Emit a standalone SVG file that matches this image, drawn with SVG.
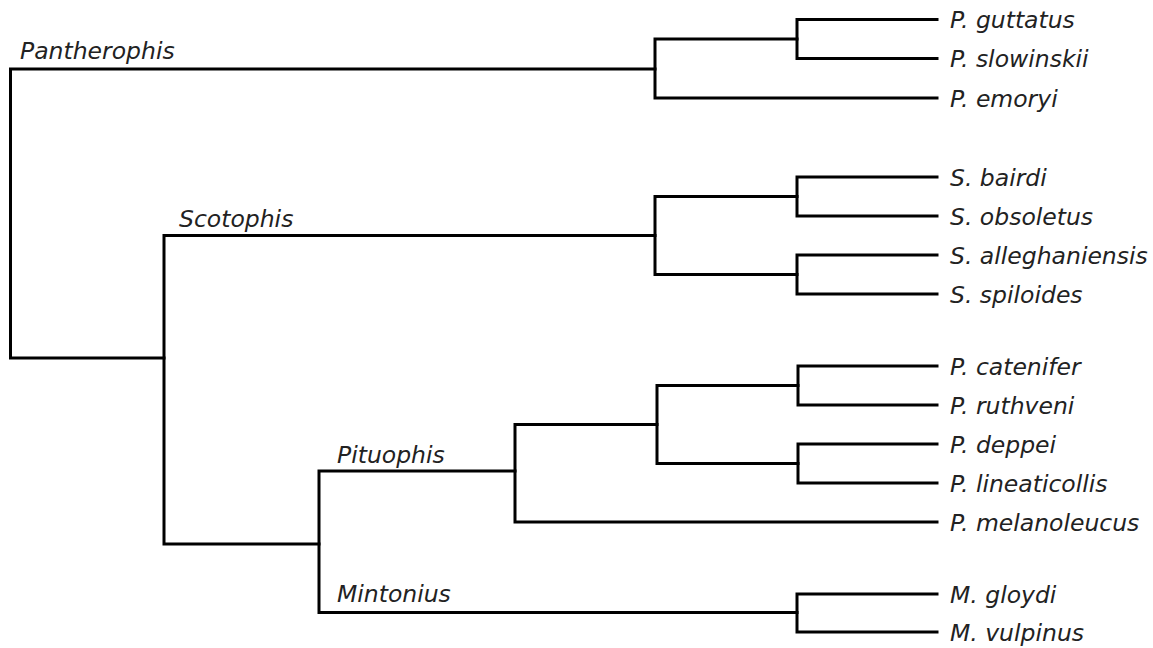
<svg xmlns="http://www.w3.org/2000/svg" width="1153" height="648" viewBox="0 0 1153 648">
<style>
.e{fill:none;stroke:#000;stroke-width:3;stroke-linejoin:miter;stroke-linecap:square}
.t{font-family:"DejaVu Sans","Verdana",sans-serif;font-style:italic;font-size:23.5px;fill:#222}
</style>
<rect width="1153" height="648" fill="#fff"/>
<g id="connectors">
<path class="e" d="M655 69H10.5V358H164"/>
<path class="e" d="M797 39H655V98H937"/>
<path class="e" d="M937 19.5H797V58.5H937"/>
<path class="e" d="M655 235.5H164V544H319"/>
<path class="e" d="M797 196.5H655V274.5H797"/>
<path class="e" d="M937 177H797V216H937"/>
<path class="e" d="M937 255H797V294H937"/>
<path class="e" d="M515 471H319V612.5H797"/>
<path class="e" d="M657 424.5H515V522H937"/>
<path class="e" d="M798 385.5H657V463.5H798"/>
<path class="e" d="M937 366H798V405H937"/>
<path class="e" d="M937 444H798V483H937"/>
<path class="e" d="M937 594H797V632H937"/>
</g>
<g id="clade-pantherophis"><text class="t" x="20" y="59">Pantherophis</text></g>
<g id="clade-scotophis"><text class="t" x="179" y="227">Scotophis</text></g>
<g id="clade-pituophis"><text class="t" x="337" y="463">Pituophis</text></g>
<g id="clade-mintonius"><text class="t" x="337" y="602">Mintonius</text></g>
<g id="leaf-p-guttatus"><text class="t" x="950" y="28">P. guttatus</text></g>
<g id="leaf-p-slowinskii"><text class="t" x="950" y="67">P. slowinskii</text></g>
<g id="leaf-p-emoryi"><text class="t" x="950" y="106.5">P. emoryi</text></g>
<g id="leaf-s-bairdi"><text class="t" x="950" y="185.5">S. bairdi</text></g>
<g id="leaf-s-obsoletus"><text class="t" x="950" y="224.5">S. obsoletus</text></g>
<g id="leaf-s-alleghaniensis"><text class="t" x="950" y="263.5">S. alleghaniensis</text></g>
<g id="leaf-s-spiloides"><text class="t" x="950" y="302.5">S. spiloides</text></g>
<g id="leaf-p-catenifer"><text class="t" x="950" y="374.5">P. catenifer</text></g>
<g id="leaf-p-ruthveni"><text class="t" x="950" y="413.5">P. ruthveni</text></g>
<g id="leaf-p-deppei"><text class="t" x="950" y="452.5">P. deppei</text></g>
<g id="leaf-p-lineaticollis"><text class="t" x="950" y="491.5">P. lineaticollis</text></g>
<g id="leaf-p-melanoleucus"><text class="t" x="950" y="530.5">P. melanoleucus</text></g>
<g id="leaf-m-gloydi"><text class="t" x="950" y="602.5">M. gloydi</text></g>
<g id="leaf-m-vulpinus"><text class="t" x="950" y="640.5">M. vulpinus</text></g>
</svg>
